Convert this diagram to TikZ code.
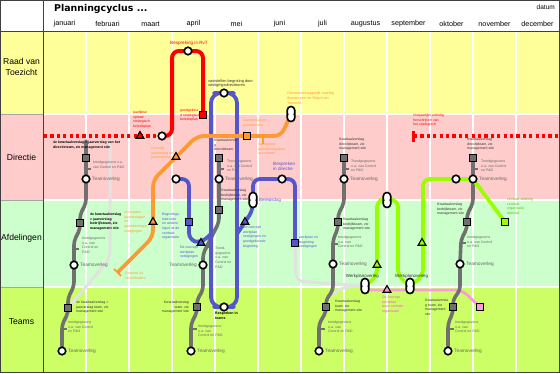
\documentclass[tikz,border=0pt]{standalone}
\usepackage{fontspec}
\setmainfont{Liberation Sans}
\newfontfamily\titlefont{DejaVu Sans}
\usetikzlibrary{shapes.geometric,arrows.meta}
\definecolor{cYel}{HTML}{FFFF99}
\definecolor{cPink}{HTML}{FFCCCC}
\definecolor{cMint}{HTML}{CCFFCC}
\definecolor{cLime}{HTML}{CCFF66}
\definecolor{cRed}{HTML}{FF0000}
\definecolor{cOrange}{HTML}{FF9933}
\definecolor{cBlue}{HTML}{5555CC}
\definecolor{cGreen}{HTML}{99FF00}
\definecolor{cGreenT}{HTML}{44CC00}
\definecolor{cGray}{HTML}{707070}
\definecolor{cLight}{HTML}{E2E2E2}
\definecolor{cPinkL}{HTML}{FF99DD}
\definecolor{cPinkT}{HTML}{EE55BB}
\definecolor{cTxt}{HTML}{666666}
\definecolor{cDark}{HTML}{333333}
\pgfdeclarelayer{back}
\pgfdeclarelayer{mid}
\pgfsetlayers{back,mid,main}
\tikzset{
  metro/.style={line width=3.8pt, line cap=round, line join=round, rounded corners=7pt},
  grayline/.style={line width=3.6pt, line cap=round, line join=round, rounded corners=4pt, cGray},
  stn/.style={circle, draw=black, fill=white, line width=1.6pt, minimum size=7.5pt, inner sep=0pt},
  sqr/.style={rectangle, draw=black, line width=1.3pt, minimum size=6.5pt, inner sep=0pt},
  gsq/.style={sqr, fill=cGray},
  tri/.style={regular polygon, regular polygon sides=3, draw=black, line width=1.1pt, minimum size=9pt, inner sep=0pt},
  pill/.style={rectangle, rounded corners=3.6pt, draw=black, fill=white, line width=1.6pt,
    minimum width=7.5pt, minimum height=15pt, inner sep=0pt,
    path picture={\fill[black] (path picture bounding box.west) circle (1.5pt) (path picture bounding box.east) circle (1.5pt);}},
  lbl/.style={font=\fontsize{3.5}{4.6}\selectfont, align=left, inner sep=0pt, anchor=north west},
  glbl/.style={lbl, text=cTxt},
  klbl/.style={lbl, text=cDark},
  tlbl/.style={font=\fontsize{4.8}{5.5}\selectfont, text=cTxt, inner sep=0pt, anchor=west},
  ticks/.style={cGray, line width=2.4pt},
  rowlbl/.style={font=\fontsize{8.6}{10.2}\selectfont, align=center, inner sep=0pt},
  monthlbl/.style={font=\fontsize{7.2}{8}\selectfont, inner sep=0pt},
}
\begin{document}
\begin{tikzpicture}[x=1pt,y=-1pt]
\useasboundingbox (0,0) rectangle (560,373);
\begin{pgfonlayer}{back}
\fill[white] (0,0) rectangle (560,373);
\fill[cYel] (0,31) rectangle (559,114);
\fill[cPink] (0,114) rectangle (559,200);
\fill[cMint] (0,200) rectangle (559,287);
\fill[cLime] (0,287) rectangle (559,372);
\foreach \x in {86,129,...,516} \draw[white, line width=1.6pt] (\x,31) -- (\x,372);
\foreach \y in {114,200,287} {
  \draw[white, line width=1.6pt] (44,\y) -- (559,\y);
  \draw[black!35, line width=0.8pt] (0,\y) -- (43,\y);
}
\draw[black!75, line width=0.8pt] (0.4,0.4) rectangle (559.6,372.6);
\draw[black!75, line width=0.8pt] (43.5,0) -- (43.5,373);
\draw[black!75, line width=0.8pt] (0,31) -- (560,31);
\end{pgfonlayer}

% header
\node[anchor=west, font=\titlefont\bfseries\fontsize{9.4}{11}\selectfont, inner sep=0pt] (title) at (54,9) {Planningcyclus ...};
\node[anchor=east, font=\fontsize{6.5}{7.5}\selectfont, inner sep=0pt] (datum) at (555,7) {datum};
\foreach \m [count=\i] in {januari,februari,maart,april,mei,juni,juli,augustus,september,oktober,november,december}
  \node[monthlbl] (m\i) at ({21.5+43*\i},24) {\m};
\node[rowlbl] (rv) at (21.5,67) {Raad van\\Toezicht};
\node[rowlbl] (rd) at (21.5,157) {Directie};
\node[rowlbl] (ra) at (21.5,238) {Afdelingen};
\node[rowlbl] (rt) at (21.5,322) {Teams};

% ---------- stations ----------
% red
\node[stn] (R1) at (188,51) {};
\node[stn] (R2) at (162,136) {};
\node[sqr, fill=cRed] (R3) at (203,115) {};
\node[tri, fill=cRed] (RT) at (140,136) {};
\coordinate (RL) at (44,136);
\coordinate (RB) at (414,136);
\coordinate (RR) at (559,136);
\coordinate (RBt) at (413.5,131);
\coordinate (RBb) at (413.5,142);
% orange
\coordinate (O0) at (117,273);
\node[tri, fill=cOrange] (OT1) at (153,222) {};
\node[tri, fill=cOrange] (OT2) at (176,157) {};
\node[sqr, fill=cOrange] (OS1) at (247,136) {};
\node[pill] (P1) at (291,114) {};
\coordinate (OTa) at (263,136);
\coordinate (OTb) at (263,144);
% blue
\node[stn] (B1) at (224,93) {};
\node[stn] (B2) at (224,307) {};
\node[stn] (B3) at (176,179) {};
\node[sqr, fill=cBlue] (BS1) at (189,222) {};
\node[tri, fill=cBlue] (BT1) at (201,243) {};
\node[stn] (B4) at (282,179) {};
\node[pill] (P2) at (253,200) {};
\node[tri, fill=cBlue] (BT2) at (245,222) {};
\node[sqr, fill=cBlue] (BS2) at (295,243) {};
% green
\node[stn] (G1) at (456,179) {};
\node[sqr, fill=cGreen] (GS) at (505,222) {};
\node[tri, fill=cGreen] (GT1) at (422,243) {};
\node[tri, fill=cGreen] (GT2) at (377,265) {};
\node[pill] (P3) at (387,200) {};
\node[pill] (P4) at (365,286) {};
\node[pill] (P5) at (410,286) {};
% pink
\node[tri, fill=cPinkL] (PT) at (387,290) {};
\node[sqr, fill=cPinkL] (PS) at (480,307) {};
% gray A
\node[gsq] (SA1) at (86,158) {};
\node[stn] (CA1) at (86,179) {};
\node[gsq] (SA2) at (80,223) {};
\node[stn] (CA2) at (74,265) {};
\node[gsq] (SA3) at (68,308) {};
\node[stn] (CA3) at (62,351) {};
% gray B
\node[gsq] (SB1) at (219,158) {};
\node[stn] (CB1) at (219,179) {};
\node[gsq] (SB2) at (219,210) {};
\node[stn] (CB2) at (203,265) {};
\node[gsq] (SB3) at (197,307) {};
\node[stn] (CB3) at (191,351) {};
% gray C
\node[gsq] (SC1) at (344,158) {};
\node[stn] (CC1) at (344,179) {};
\node[gsq] (SC2) at (338,222) {};
\node[stn] (CC2) at (333,264) {};
\node[gsq] (SC3) at (326,307) {};
\node[stn] (CC3) at (319,351) {};
% gray D
\node[gsq] (SD1) at (473,158) {};
\node[stn] (CD1) at (473,179) {};
\node[gsq] (SD2) at (467,222) {};
\node[stn] (CD2) at (460,264) {};
\node[gsq] (SD3) at (453,307) {};
\node[stn] (CD3) at (448,351) {};

% ---------- lines ----------
\begin{pgfonlayer}{mid}
% light gray
\draw[metro, cLight, line width=3pt] (110,141) -- (110,258) -- (SA3.center);
\draw[metro, cLight, line width=3pt] (BS2.center) -- (296,281) -- (P4.center);
\draw[metro, cLight, line width=3pt] (333,294) -- (343,287) -- (P4.center);
% pink
\draw[metro, cPinkL, line width=2.8pt] (365,290) -- (PT.center) -- (410,290) -- (462,290) -- (PS.center);
% gray
\draw[grayline] (86,141) -- (SA1.center) -- (CA1.center) -- (86,203) -- (80,215) -- (SA2.center) -- (80,229) -- (74,241) -- (CA2.center) -- (74,286) -- (68,298) -- (SA3.center) -- (68,313) -- (62,325) -- (CA3.center);
\draw[grayline] (SB1.center) -- (CB1.center) -- (SB2.center) -- (219,222) -- (203,254) -- (CB2.center) -- (203,290) -- (197,300) -- (SB3.center) -- (197,312) -- (191,324) -- (CB3.center);
\draw[grayline] (SC1.center) -- (CC1.center) -- (344,203) -- (338,215) -- (SC2.center) -- (338,228) -- (333,240) -- (CC2.center) -- (333,290) -- (326,300) -- (SC3.center) -- (326,312) -- (319,324) -- (CC3.center);
\draw[grayline] (SD1.center) -- (CD1.center) -- (473,203) -- (467,215) -- (SD2.center) -- (467,228) -- (461,240) -- (CD2.center) -- (460,290) -- (453,300) -- (SD3.center) -- (453,312) -- (448,324) -- (CD3.center);
\draw[ticks] (86,169) -- (91,169);
\draw[ticks] (74,249) -- (79,249);
\draw[ticks] (62,329) -- (67,329);
\draw[ticks] (219,169) -- (224,169);
\draw[ticks] (208,247) -- (213,247);
\draw[ticks] (192,329) -- (197,329);
\draw[ticks] (344,169) -- (349,169);
\draw[ticks] (333,244) -- (338,244);
\draw[ticks] (320,329) -- (325,329);
\draw[ticks] (473,169) -- (478,169);
\draw[ticks] (461,243) -- (466,243);
\draw[ticks] (449,329) -- (454,329);
% green
\draw[metro, cGreen] (GS.center) -- (CD1.center) -- (G1.center) -- (423,179) -- (423,276) -- (P5.center);
\draw[metro, cGreen] (P4.center) -- (377,276) -- (377,200) -- (P3.center) -- (398,200) -- (398,276) -- (P5.center);
% blue
\draw[metro, cBlue, rounded corners=10pt] (B1.center) -- (211,93) -- (211,307) -- (B2.center) -- (237,307) -- (237,93) -- cycle;
\draw[metro, cBlue] (B3.center) -- (189,179) -- (BS1.center) -- (189,240) -- (BT1.center) -- (211,234);
\draw[metro, cBlue] (P2.center) -- (253,179) -- (B4.center) -- (295,179) -- (BS2.center);
\draw[metro, cBlue] (P2.center) -- (253,210) -- (BT2.center) -- (237,234);
% orange
\draw[metro, cOrange, line cap=butt, {Bar[width=10pt, line width=1.6pt]}-] (O0) -- (153,237) -- (OT1.center) -- (153,180) -- (OT2.center) -- (197,136) -- (OS1.center) -- (281,136) -- (P1.center);
\draw[cOrange, line width=2.4pt] (OTa) -- (OTb);
% red
\draw[metro, cRed, line width=4pt] (R2.center) -- (172,136) -- (172,51) -- (R1.center) -- (203,51) -- (R3.center);
\draw[cRed, line width=3.2pt, dash pattern=on 3.2pt off 3.2pt] (RL) -- (R2.center);
\draw[cRed, line width=3.2pt, dash pattern=on 3.2pt off 3.2pt] (RB) -- (RR);
\draw[cRed, line width=2.6pt] (RBt) -- (RBb);
\end{pgfonlayer}

% ---------- labels ----------
% red
\node[font=\fontsize{4.6}{5.5}\selectfont, text=cRed, inner sep=0pt] (lR1) at (189,43) {Bespreking in RvT};
\node[lbl, text=cRed] (lR2) at (133,111) {jaarlijkse\\update\\strategisch\\beleidsplan};
\node[lbl, text=cRed] (lR3) at (180,109) {goedgekeur\\d strategisch\\beleidsplan};
\node[lbl, text=cRed] (lR4) at (413,114) {Vierjaarlijks volledig\\herschrijven van\\het strategisch};
% orange
\node[lbl, text=cOrange, font=\fontsize{3.8}{4.8}\selectfont] (lO1) at (287,92) {Gemeenschappelijk overleg\\directeuren en Raad van\\Toezicht};
\node[lbl, text=cOrange] (lO2) at (151,147) {Concept\\jaarverslag en\\jaarrekening};
\node[lbl, text=cOrange] (lO3) at (243,119) {Jaarverslag en\\jaarrekening};
\node[lbl, text=cOrange] (lO4) at (258,143) {Vaststellen\\jaarrekening door\\accountant};
\node[lbl, text=cOrange] (lO5) at (124,211) {Concepten\\jaarverslagen\\en\\jaarrekeningen\\vestigingen};
\node[lbl, text=cOrange] (lO6) at (125,272) {Gesprek uit\\schoolleiders};
% blue
\node[lbl, text=cDark, font=\fontsize{3.9}{4.9}\selectfont] (lB1) at (208,79) {vaststellen begroting door\\vestigingsdirecteuren};
\node[lbl, text=black, font=\bfseries\fontsize{3.6}{4.6}\selectfont] (lB2) at (215,312) {Bespreken in\\teams};
\node[lbl, text=cBlue] (lB3) at (162,213) {Begrotings-\\instructie\\en andere\\input uit de\\centrale\\organisatie};
\node[lbl, text=cBlue] (lB4) at (180,246) {De concept\\werkplan\\vestigingen};
\node[lbl, text=cBlue, font=\fontsize{4.6}{5.4}\selectfont] (lB5) at (273,162) {Bespreken\\in directie};
\node[tlbl, text=cBlue, font=\fontsize{4.4}{5}\selectfont] (lB6) at (259,200) {Beleidsdag};
\node[lbl, text=cBlue] (lB7) at (299,236) {werkplan en\\begroting\\vestigingen};
\node[lbl, text=cBlue] (lB8) at (243,226) {De concept\\werkplan\\vestigingen en\\goedgekeurde\\begroting};
% green / pink
\node[tlbl, text=cDark, font=\fontsize{4.4}{5}\selectfont, anchor=east] (lG1) at (379,276) {Werkplanoverleg};
\node[tlbl, text=cDark, font=\fontsize{4.4}{5}\selectfont] (lG2) at (395,276) {Werkplanoverleg};
\node[lbl, text=cGreenT] (lG3) at (507,198) {centrale afdeling\\centrale\\organisatie\\datertaf};
\node[lbl, text=cPinkT] (lP1) at (382,296) {De concept\\werkplan\\team centrale\\organisatie};
% gray A
\node[lbl, text=black, font=\bfseries\fontsize{3.5}{4.6}\selectfont] (lA1) at (53,141) {4e kwartaalverslag = jaarverslag van het\\directieteam, zie management site};
\node[glbl] (lA2) at (93,161) {trendgegevens o.a.\\van Control en P\&O};
\node[tlbl] (lA3) at (92,179) {Teamoverleg};
\node[lbl, text=black, font=\bfseries\fontsize{3.5}{4.6}\selectfont] (lA4) at (90,213) {4e kwartaalverslag\\= jaarverslag\\bedrijfsteam, zie\\management site};
\node[glbl] (lA5) at (82,237) {trendgegevens\\o.a. van\\Control en\\P\&O};
\node[tlbl] (lA6) at (80,265) {Teamoverleg};
\node[klbl] (lA7) at (76,301) {4e kwartaalverslag =\\jaarverslag team, zie\\management site};
\node[glbl] (lA8) at (68,321) {trendgegevens\\o.a. van Control\\en P\&O};
\node[tlbl] (lA9) at (68,351) {Teamoverleg};
% gray B
\node[klbl] (lB11) at (214,139) {Kwartaalversla\\g\\directieteam,};
\node[glbl] (lB12) at (227,160) {Trendgegevens\\o.a. van Control\\en P\&O};
\node[tlbl] (lB13) at (225,179) {Teamoverleg};
\node[klbl] (lB14) at (221,189) {Kwartaalverslag\\bedrijfsteam, zie\\management site};
\node[glbl] (lB15) at (215,247) {Trend-\\gegevens\\o.a. van\\Control en\\P\&O};
\node[tlbl, anchor=east] (lB16) at (197,265) {Teamoverleg};
\node[klbl, anchor=north east, align=right] (lB17) at (189,301) {Kwartaalverslag\\team, zie\\management site};
\node[glbl] (lB18) at (198,325) {trendgegevens\\o.a. van\\Control en P\&O};
\node[tlbl] (lB19) at (197,351) {Teamoverleg};
% gray C
\node[klbl] (lC1) at (339,138) {Kwartaalverslag\\directieteam, zie\\management site};
\node[glbl] (lC2) at (351,160) {Trendgegevens\\o.a. van Control\\en P\&O};
\node[tlbl] (lC3) at (350,179) {Teamoverleg};
\node[klbl] (lC4) at (343,218) {Kwartaalverslag\\bedrijfsteam, zie\\management site};
\node[glbl] (lC5) at (338,236) {trendgegevens\\o.a. van\\Control en P\&O};
\node[tlbl] (lC6) at (339,264) {Teamoverleg};
\node[klbl] (lC7) at (335,300) {Kwartaalverslag\\team, zie\\management site};
\node[glbl] (lC8) at (328,321) {trendgegevens\\o.a. van\\Control en P\&O};
\node[tlbl] (lC9) at (325,351) {Teamoverleg};
% gray D
\node[klbl] (lD1) at (467,138) {Kwartaalverslag\\directieteam, zie\\management site};
\node[glbl] (lD2) at (481,160) {Trendgegevens\\o.a. van Control\\en P\&O};
\node[tlbl] (lD3) at (479,179) {Teamoverleg};
\node[klbl] (lD4) at (437,203) {Kwartaalverslag\\bedrijfsteam, zie\\management site};
\node[glbl] (lD5) at (467,236) {trendgegevens\\o.a. van Control\\en P\&O};
\node[tlbl] (lD6) at (466,264) {Teamoverleg};
\node[klbl] (lD7) at (425,299) {Kwartaalversla\\g team, zie\\management\\site};
\node[glbl] (lD8) at (455,321) {trendgegevens\\o.a. van\\Control en P\&O};
\node[tlbl] (lD9) at (454,351) {Teamoverleg};
\end{tikzpicture}
\end{document}
